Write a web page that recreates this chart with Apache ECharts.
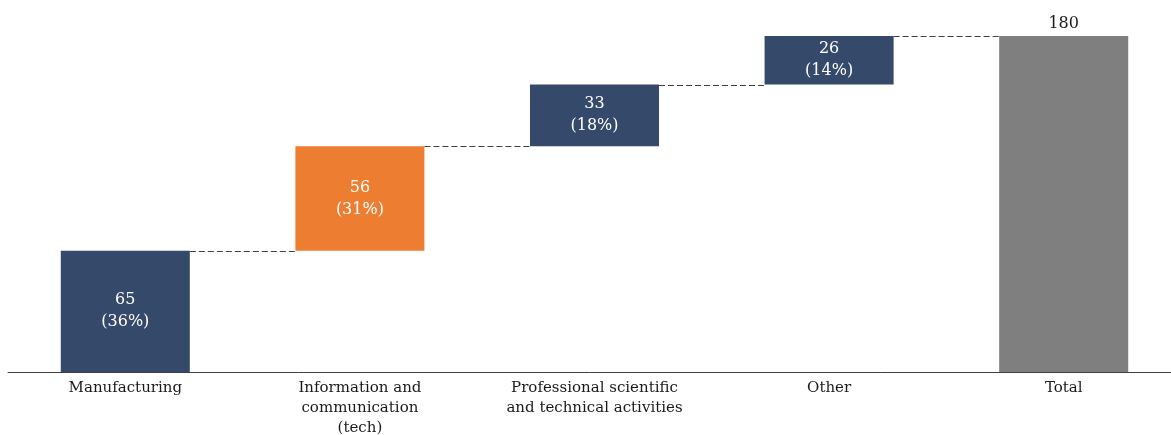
<!DOCTYPE html>
<html>
<head>
<meta charset="utf-8">
<script src="https://cdn.jsdelivr.net/npm/echarts@6/dist/echarts.min.js"></script>
<style>
  html, body { margin: 0; padding: 0; background: #fff; }
  #chart { width: 1171px; height: 435px; }
</style>
</head>
<body>
<div id="chart"></div>
<script>
// Sector contributions to the total, in a waterfall
const categories = ['Manufacturing', 'Information and\ncommunication\n(tech)', 'Professional scientific\nand technical activities', 'Other', 'Total'];
const values = [65, 56, 33, 26, 180];
const shares = ['36%', '31%', '18%', '14%', ''];
const isTotal = [false, false, false, false, true];
const barColors = ['#35496A', '#ED7D31', '#35496A', '#35496A', '#7F7F7F'];

// running base for each floating bar
const bases = [];
let run = 0;
values.forEach((v, i) => {
  if (isTotal[i]) { bases.push(0); }
  else { bases.push(run); run += v; }
});
const tops = values.map((v, i) => bases[i] + v);

const FONT = 'DejaVu Serif';

const chart = echarts.init(document.getElementById('chart'));
chart.setOption({
  animation: false,
  grid: { left: 8, right: -10, top: 36, bottom: 63, containLabel: false, outerBoundsMode: 'none' },
  xAxis: {
    type: 'category',
    data: categories,
    axisLine: { lineStyle: { color: '#404040', width: 1 } },
    axisTick: { show: false },
    axisLabel: { color: '#1a1a1a', fontFamily: FONT, fontSize: 15, lineHeight: 20, margin: 6, interval: 0 }
  },
  yAxis: { type: 'value', min: 0, max: 180, show: false, splitLine: { show: false } },
  series: [
    {
      type: 'bar', stack: 'w', barWidth: '55%',
      itemStyle: { color: 'transparent' },
      data: bases, silent: true
    },
    {
      type: 'bar', stack: 'w', barWidth: '55%',
      data: values.map((v, i) => ({
        value: v,
        itemStyle: { color: barColors[i] },
        label: isTotal[i]
          ? { show: true, position: 'top', color: '#1a1a1a', formatter: String(v), distance: 4 }
          : { show: true, position: 'inside', color: '#ffffff', formatter: v + '\n(' + shares[i] + ')', lineHeight: 22 }
      })),
      label: { fontFamily: FONT, fontSize: 16 }
    },
    {
      // dashed connectors from each bar's top to the next bar
      type: 'custom',
      silent: true,
      z: 1,
      data: tops.slice(0, -1).map((t, i) => [i, t]),
      renderItem: function (params, api) {
        const i = api.value(0);
        const y = api.value(1);
        const band = api.size([1, 0])[0];
        const half = band * 0.55 / 2;
        const p1 = api.coord([i, y]);
        const p2 = api.coord([i + 1, y]);
        const py = Math.round(p1[1]) + 0.5;
        return {
          type: 'line',
          shape: { x1: p1[0] + half, y1: py, x2: p2[0] - half, y2: py },
          style: { stroke: '#404040', lineWidth: 1, lineDash: [6, 3] }
        };
      }
    }
  ]
});
</script>
</body>
</html>
